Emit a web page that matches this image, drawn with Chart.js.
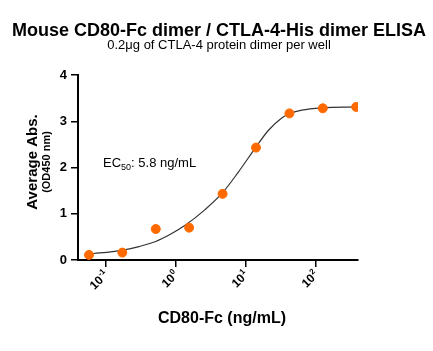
<!DOCTYPE html>
<html>
<head>
<meta charset="utf-8">
<script src="https://cdn.jsdelivr.net/npm/chart.js@4"></script>
<style>
  html, body { margin: 0; padding: 0; background: #fff; }
  #wrap { width: 433px; height: 351px; }
</style>
</head>
<body>
<div id="wrap"><canvas id="grafico"></canvas></div>
<script>
// concentraciones (ng/mL) y absorbancias medidas
const concentrations = [0.0572, 0.171, 0.514, 1.54, 4.63, 13.9, 41.7, 125, 375];
const absorbance = [0.11, 0.16, 0.67, 0.70, 1.43, 2.43, 3.17, 3.28, 3.31];

// curva ajustada
const fitX = [0.0572, 0.169, 0.296, 0.513, 0.82, 1.35, 2.6, 4.6, 7.77, 13.7, 20.8, 32.4, 41.1, 62.5, 122, 373];
const fitY = [0.13, 0.21, 0.29, 0.40, 0.55, 0.75, 1.09, 1.45, 1.90, 2.43, 2.80, 3.07, 3.16, 3.24, 3.29, 3.31];

const xTicks = [0.1, 1, 10, 100];
const xTickLabels = [['10', '-1'], ['10', '0'], ['10', '1'], ['10', '2']];
const yTicks = [0, 1, 2, 3, 4];

const FONT = '"Liberation Sans", Arial, sans-serif';

// Dibuja textos: titulos, etiquetas de ejes y EC50
const textPlugin = {
    id: 'textos',
    afterDraw(chart) {
        const ctx = chart.ctx;
        const xs = chart.scales.x;
        const ys = chart.scales.y;
        ctx.save();
        ctx.fillStyle = '#000';

        ctx.textAlign = 'center';
        ctx.textBaseline = 'alphabetic';
        ctx.font = 'bold 18px ' + FONT;
        ctx.fillText('Mouse CD80-Fc dimer / CTLA-4-His dimer ELISA', 219, 36);
        ctx.font = '13px ' + FONT;
        ctx.fillText('0.2μg of CTLA-4 protein dimer per well', 219, 49);

        // etiquetas eje y
        ctx.font = 'bold 13px ' + FONT;
        ctx.textAlign = 'right';
        ctx.textBaseline = 'middle';
        yTicks.forEach(v => ctx.fillText(String(v), xs.left - 11, ys.getPixelForValue(v)));

        // etiquetas eje x rotadas con superindice
        xTicks.forEach((v, i) => {
            const px = xs.getPixelForValue(v);
            ctx.save();
            ctx.translate(px + 1, ys.bottom + 13);
            ctx.rotate(-Math.PI / 4);
            ctx.textBaseline = 'middle';
            ctx.textAlign = 'right';
            ctx.font = 'bold 8px ' + FONT;
            const sup = xTickLabels[i][1];
            const supW = ctx.measureText(sup).width;
            ctx.fillText(sup, 0, -4);
            ctx.font = 'bold 12px ' + FONT;
            ctx.fillText(xTickLabels[i][0], -supW - 0.5, 0);
            ctx.restore();
        });

        // titulo eje x
        ctx.textAlign = 'center';
        ctx.textBaseline = 'alphabetic';
        ctx.font = 'bold 16px ' + FONT;
        ctx.fillText('CD80-Fc (ng/mL)', 222, 323);

        // titulo eje y
        ctx.save();
        ctx.translate(0, 162);
        ctx.rotate(-Math.PI / 2);
        ctx.textBaseline = 'middle';
        ctx.font = 'bold 15px ' + FONT;
        ctx.fillText('Average Abs.', 0, 33);
        ctx.font = 'bold 11px ' + FONT;
        ctx.fillText('(OD450 nm)', 0, 47);
        ctx.restore();

        // EC50
        ctx.textAlign = 'left';
        ctx.font = '13px ' + FONT;
        let x = 103;
        ctx.fillText('EC', x, 167);
        x += ctx.measureText('EC').width;
        ctx.font = '9px ' + FONT;
        ctx.fillText('50', x, 170);
        x += ctx.measureText('50').width;
        ctx.font = '13px ' + FONT;
        ctx.fillText(': 5.8 ng/mL', x, 167);

        ctx.restore();
    }
};

document.addEventListener('DOMContentLoaded', function() {
    const ctx = document.getElementById('grafico').getContext('2d');
    new Chart(ctx, {
        type: 'scatter',
        data: {
            datasets: [{
                label: 'Ajuste',
                data: fitX.map((x, i) => ({ x: x, y: fitY[i] })),
                showLine: true,
                borderColor: '#333',
                borderWidth: 1.2,
                pointRadius: 0,
                cubicInterpolationMode: 'monotone',
                order: 2
            }, {
                label: 'Datos',
                data: concentrations.map((x, i) => ({ x: x, y: absorbance[i] })),
                backgroundColor: '#ff6a00',
                borderColor: '#ff6a00',
                pointRadius: 4.5,
                order: 1
            }]
        },
        options: {
            responsive: true,
            maintainAspectRatio: false,
            animation: false,
            layout: { padding: { left: 71, right: 75, top: 75, bottom: 84 } },
            plugins: {
                legend: { display: false },
                tooltip: { enabled: false }
            },
            scales: {
                x: {
                    type: 'logarithmic',
                    min: Math.pow(10, -1.4),
                    max: Math.pow(10, 2.6),
                    afterBuildTicks: scale => { scale.ticks = xTicks.map(v => ({ value: v })); },
                    ticks: { display: false },
                    grid: { drawOnChartArea: false, drawTicks: true, tickLength: 7, color: '#000', lineWidth: 1.5 },
                    border: { display: true, color: '#000', width: 2 }
                },
                y: {
                    min: 0,
                    max: 4,
                    afterBuildTicks: scale => { scale.ticks = yTicks.map(v => ({ value: v })); },
                    ticks: { display: false },
                    grid: { drawOnChartArea: false, drawTicks: true, tickLength: 7, color: '#000', lineWidth: 1.5 },
                    border: { display: true, color: '#000', width: 2 }
                }
            }
        },
        plugins: [textPlugin]
    });
});
</script>
</body>
</html>
